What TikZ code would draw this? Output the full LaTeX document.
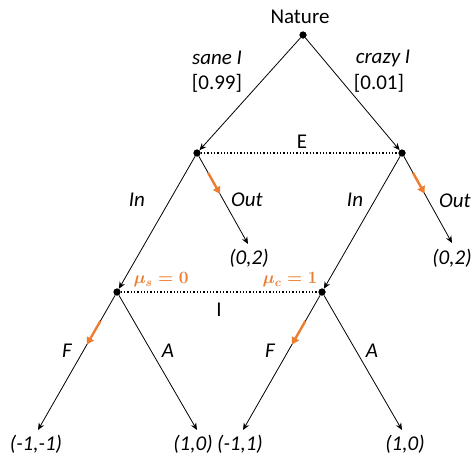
\documentclass[tikz,border=0pt]{standalone}
\usepackage{fontspec}
\setmainfont{Carlito}
\usetikzlibrary{arrows.meta,calc}
\definecolor{office}{RGB}{237,125,49}
\begin{document}
\begin{tikzpicture}[x=1pt,y=-1pt,
  dot/.style={circle,fill=black,inner sep=0pt,minimum size=7pt},
  lbl/.style={inner sep=0pt,font=\fontsize{21}{23}\selectfont},
  ilbl/.style={lbl,font=\fontsize{21}{23}\selectfont\itshape},
  mlbl/.style={inner sep=0pt,text=office,font=\fontsize{18}{20}\selectfont\boldmath},
  edge/.style={line width=0.8pt,-{Stealth[length=7pt,width=6pt]}},
  info/.style={line width=1.3pt,dotted},
  best/.style={line width=2.4pt,office,-{Triangle[length=7pt,width=8pt]}}]
\useasboundingbox (0,0) rectangle (474,455);
% decision nodes
\node[dot] (N) at (303,35) {};
\node[dot] (E1) at (197,153) {};
\node[dot] (E2) at (402,153) {};
\node[dot] (I1) at (117,292) {};
\node[dot] (I2) at (322,292) {};
% terminal points
\coordinate (o1) at (248,244);
\coordinate (o2) at (452,243);
\coordinate (t1) at (38,430);
\coordinate (t2) at (197,430);
\coordinate (t3) at (243,430);
\coordinate (t4) at (402,430);
% edges
\draw[edge] (N) -- (E1);
\draw[edge] (N) -- (E2);
\draw[edge] (E1) -- (I1);
\draw[edge] (E1) -- (o1);
\draw[edge] (E2) -- (I2);
\draw[edge] (E2) -- (o2);
\draw[edge] (I1) -- (t1);
\draw[edge] (I1) -- (t2);
\draw[edge] (I2) -- (t3);
\draw[edge] (I2) -- (t4);
% info sets
\draw[info] (E1) -- (E2);
\draw[info] (I1) -- (I2);
% redraw dots on top
\foreach \n in {N,E1,E2,I1,I2} \fill (\n) circle (3.5pt);
% best responses
\draw[best] ($(E1)!0.22!(o1)$) -- ($(E1)!0.45!(o1)$);
\draw[best] ($(E2)!0.22!(o2)$) -- ($(E2)!0.45!(o2)$);
\draw[best] ($(I1)!0.21!(t1)$) -- ($(I1)!0.38!(t1)$);
\draw[best] ($(I2)!0.21!(t3)$) -- ($(I2)!0.38!(t3)$);
% labels
\node[lbl] (nat) at (300,17) {Nature};
\node[ilbl] (sane) at (217,58) {sane I};
\node[lbl] (p1) at (217,83) {[0.99]};
\node[ilbl] (crazy) at (383,58) {crazy I};
\node[lbl] (p2) at (379,83) {[0.01]};
\node[lbl] (Elab) at (302,142) {E};
\node[ilbl] (in1) at (137,200) {In};
\node[ilbl] (out1) at (247,200) {Out};
\node[ilbl] (in2) at (355,200) {In};
\node[ilbl] (out2) at (455,201) {Out};
\node[ilbl] (pay1) at (249,258) {(0,2)};
\node[ilbl] (pay2) at (452,258) {(0,2)};
\node[mlbl] (mus) at (161,280) {$\mu_s = 0$};
\node[mlbl] (muc) at (290,280) {$\mu_c = 1$};
\node[lbl] (Ilab) at (219,310) {I};
\node[ilbl] (F1) at (67,351) {F};
\node[ilbl] (A1) at (168,351) {A};
\node[ilbl] (F2) at (270,351) {F};
\node[ilbl] (A2) at (372,351) {A};
\node[ilbl] (pay3) at (36,444) {(-1,-1)};
\node[ilbl] (pay4) at (193,444) {(1,0)};
\node[ilbl] (pay5) at (240,444) {(-1,1)};
\node[ilbl] (pay6) at (405,444) {(1,0)};
\end{tikzpicture}
\end{document}
